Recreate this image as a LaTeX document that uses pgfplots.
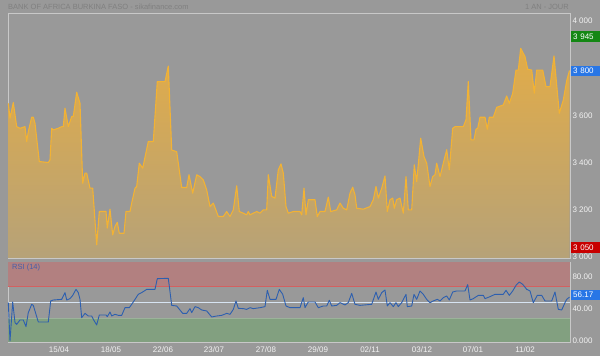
\documentclass[border=0pt]{standalone}
\usepackage{pgfplots}
\pgfplotsset{compat=1.18}
\usepackage{fontspec}
\setmainfont{Liberation Sans}
\definecolor{bg}{RGB}{153,153,153}
\definecolor{framec}{RGB}{200,200,200}
\definecolor{lbl}{RGB}{242,242,242}
\definecolor{titlec}{RGB}{128,128,128}
\definecolor{pline}{RGB}{242,178,52}
\definecolor{ptop}{RGB}{226,172,72}
\definecolor{pbot}{RGB}{182,162,120}
\definecolor{rsiline}{RGB}{45,95,175}
\definecolor{redband}{RGB}{178,128,128}
\definecolor{greenband}{RGB}{130,160,128}
\definecolor{redline}{RGB}{212,96,96}
\definecolor{midline}{RGB}{215,228,242}
\definecolor{boxgreen}{RGB}{20,135,20}
\definecolor{boxblue}{RGB}{40,118,230}
\definecolor{boxred}{RGB}{200,0,0}
\definecolor{rsitext}{RGB}{70,95,170}

\begin{document}
\begin{tikzpicture}[x=1pt,y=1pt]
\useasboundingbox (0,0) rectangle (600,356);
\fill[bg] (0,0) rectangle (600,356);
\node[anchor=west, text=titlec, font=\fontsize{7.5}{8}\selectfont, inner sep=0pt] at (8,349.5) {BANK OF AFRICA BURKINA FASO - sikafinance.com};
\node[anchor=east, text=titlec, font=\fontsize{7.5}{8}\selectfont, inner sep=0pt] at (569,349.5) {1 AN - JOUR};

% ---------- price panel ----------
\begin{axis}[
  at={(8pt,98pt)}, anchor=south west,
  width=562pt, height=245pt, scale only axis,
  xmin=8, xmax=570, ymin=2995, ymax=4034,
  axis background/.style={fill=bg},
  axis line style={framec, line width=0.8pt},
  xtick=\empty,
  ytick={3000,3200,3400,3600,4000},
  yticklabels={3 000,3 200,3 400,3 600,4 000},
  yticklabel pos=right,
  major tick length=0pt,
  yticklabel style={font=\fontsize{8}{9}\selectfont, text=lbl, anchor=west, xshift=-1pt},
  clip=false,
]
\addplot[overlay, draw=none, top color=ptop, bottom color=pbot] coordinates {
(8.3,2995)
(8.3,3651) (10,3588) (13.3,3654) (16.7,3552) (20,3545) (25,3552) (26.7,3489) (28.3,3531)
(31.7,3592) (33.3,3592) (35,3566) (39.3,3404) (48.3,3400) (50,3411) (51.7,3545) (53.3,3538)
(58.3,3545) (61.7,3552) (63.3,3552) (65,3630) (68.3,3552) (71.7,3595) (73.3,3595) (76.7,3698)
(80,3651) (82.7,3312) (85,3355) (86.7,3355) (90,3291) (92.7,3291) (96.7,3051) (99.3,3192)
(106,3192) (107.3,3122) (110,3202) (112.7,3093) (115,3129) (117.3,3146) (119.3,3100) (124,3100)
(126,3192) (130,3192) (131.7,3228) (135,3291) (136.7,3298) (139.3,3397) (142.7,3376) (148.3,3489)
(153.3,3489) (157.3,3743) (165,3743) (168.3,3809) (171.7,3453) (176.7,3446) (181.7,3294) (186.7,3294)
(189,3348) (192.7,3270) (196.7,3348) (200,3340) (203.3,3326) (206.7,3284) (210,3213) (213.3,3228)
(218.3,3171) (223.3,3171) (226.7,3192) (230,3171) (233.3,3199) (236.7,3301) (239.3,3192) (243.3,3185)
(246.7,3178) (248.3,3192) (250,3178) (253.3,3185) (256.7,3192) (260,3185) (263.3,3199) (266.7,3199)
(268.3,3348) (271.7,3256) (275,3249) (278.3,3369) (281,3394) (283.3,3355) (286,3213) (288.3,3185)
(293.3,3192) (300,3192) (301.7,3178) (304,3291) (306,3178) (308.3,3242) (315,3242) (317.3,3171)
(320,3192) (325,3192) (328.3,3253) (330.7,3192) (336.7,3199) (340,3228) (343.3,3206) (346.7,3199)
(350,3270) (352.7,3295) (355,3263) (356.7,3206) (363.3,3202) (370,3213) (373.3,3242) (376,3298)
(378.3,3249) (381.7,3291) (385,3343) (387.3,3192) (390,3242) (392.7,3249) (394.3,3206) (396.7,3242)
(400,3249) (403.3,3185) (406,3340) (408.3,3199) (411.7,3199) (414.3,3390) (416.7,3319) (420.7,3503)
(424,3425) (426.7,3397) (430,3298) (432.7,3340) (435,3348) (436.7,3397) (440,3340) (443.3,3397)
(446.7,3454) (449.3,3369) (452.7,3545) (455,3552) (463.3,3552) (466,3581) (468.3,3743) (471,3496)
(474,3496) (476,3541) (477.7,3545) (480,3592) (485,3592) (487.3,3541) (489.3,3592) (493.3,3592)
(496.7,3634) (503.3,3644) (506.7,3682) (509.3,3651) (512.7,3694) (516,3792) (518.3,3792) (520.7,3884)
(525,3849) (527.7,3795) (531.7,3792) (534.3,3694) (536.7,3792) (542.7,3792) (546,3722) (550,3722)
(554,3852) (559.3,3609) (563.3,3665) (566.7,3747) (569.5,3790)
(569.5,2995)
};
\addplot[draw=pline, line width=1.1pt, line join=round] coordinates {
(8.3,3651) (10,3588) (13.3,3654) (16.7,3552) (20,3545) (25,3552) (26.7,3489) (28.3,3531)
(31.7,3592) (33.3,3592) (35,3566) (39.3,3404) (48.3,3400) (50,3411) (51.7,3545) (53.3,3538)
(58.3,3545) (61.7,3552) (63.3,3552) (65,3630) (68.3,3552) (71.7,3595) (73.3,3595) (76.7,3698)
(80,3651) (82.7,3312) (85,3355) (86.7,3355) (90,3291) (92.7,3291) (96.7,3051) (99.3,3192)
(106,3192) (107.3,3122) (110,3202) (112.7,3093) (115,3129) (117.3,3146) (119.3,3100) (124,3100)
(126,3192) (130,3192) (131.7,3228) (135,3291) (136.7,3298) (139.3,3397) (142.7,3376) (148.3,3489)
(153.3,3489) (157.3,3743) (165,3743) (168.3,3809) (171.7,3453) (176.7,3446) (181.7,3294) (186.7,3294)
(189,3348) (192.7,3270) (196.7,3348) (200,3340) (203.3,3326) (206.7,3284) (210,3213) (213.3,3228)
(218.3,3171) (223.3,3171) (226.7,3192) (230,3171) (233.3,3199) (236.7,3301) (239.3,3192) (243.3,3185)
(246.7,3178) (248.3,3192) (250,3178) (253.3,3185) (256.7,3192) (260,3185) (263.3,3199) (266.7,3199)
(268.3,3348) (271.7,3256) (275,3249) (278.3,3369) (281,3394) (283.3,3355) (286,3213) (288.3,3185)
(293.3,3192) (300,3192) (301.7,3178) (304,3291) (306,3178) (308.3,3242) (315,3242) (317.3,3171)
(320,3192) (325,3192) (328.3,3253) (330.7,3192) (336.7,3199) (340,3228) (343.3,3206) (346.7,3199)
(350,3270) (352.7,3295) (355,3263) (356.7,3206) (363.3,3202) (370,3213) (373.3,3242) (376,3298)
(378.3,3249) (381.7,3291) (385,3343) (387.3,3192) (390,3242) (392.7,3249) (394.3,3206) (396.7,3242)
(400,3249) (403.3,3185) (406,3340) (408.3,3199) (411.7,3199) (414.3,3390) (416.7,3319) (420.7,3503)
(424,3425) (426.7,3397) (430,3298) (432.7,3340) (435,3348) (436.7,3397) (440,3340) (443.3,3397)
(446.7,3454) (449.3,3369) (452.7,3545) (455,3552) (463.3,3552) (466,3581) (468.3,3743) (471,3496)
(474,3496) (476,3541) (477.7,3545) (480,3592) (485,3592) (487.3,3541) (489.3,3592) (493.3,3592)
(496.7,3634) (503.3,3644) (506.7,3682) (509.3,3651) (512.7,3694) (516,3792) (518.3,3792) (520.7,3884)
(525,3849) (527.7,3795) (531.7,3792) (534.3,3694) (536.7,3792) (542.7,3792) (546,3722) (550,3722)
(554,3852) (559.3,3609) (563.3,3665) (566.7,3747) (569.5,3790)
};
\coordinate (hi) at (axis cs:570,3934);
\coordinate (last) at (axis cs:570,3788);
\coordinate (lo) at (axis cs:570,3040);
\end{axis}

% ---------- RSI panel ----------
\begin{axis}[
  at={(8pt,14pt)}, anchor=south west,
  width=562pt, height=80pt, scale only axis,
  xmin=8, xmax=570, ymin=0, ymax=100,
  axis background/.style={fill=bg},
  axis line style={framec, line width=0.8pt},
  xtick={59,111,163,214,266,318,370,422,473,525},
  xticklabels={15/04,18/05,22/06,23/07,27/08,29/09,02/11,03/12,07/01,11/02},
  xticklabel style={font=\fontsize{8}{9}\selectfont, text=lbl, yshift=-1.5pt},
  ytick={0,40,80},
  yticklabels={0.000,40.00,80.00},
  yticklabel pos=right,
  major tick length=0pt,
  yticklabel style={font=\fontsize{8}{9}\selectfont, text=lbl, anchor=west, xshift=-1pt, yshift=1.5pt},
  clip=false,
]
\addplot[draw=none, fill=redband] coordinates {(8,70) (570,70) (570,100) (8,100)};
\addplot[draw=none, fill=greenband] coordinates {(8,0) (570,0) (570,30) (8,30)};
\addplot[redline, line width=0.8pt] coordinates {(8,70) (570,70)};
\addplot[midline, line width=0.8pt] coordinates {(8,50) (570,50)};
\addplot[greenband!80!white, line width=0.6pt] coordinates {(8,30) (570,30)};
\addplot[rsiline, line width=0.9pt, line join=round] coordinates {
(8.3,49.2) (10,1.2) (12.7,50) (15,24.2) (16.7,22.1) (20,27.5) (23.3,27.5) (26,19.2) (28.3,36.7)
(31.7,47.1) (33.3,45.8) (38.3,25) (48.3,25) (50.7,51.3) (53.3,52.5) (61.7,53.3) (65,61.7) (66.7,52.5)
(70,54.2) (72.7,58.3) (76,65.8) (78.3,61.7) (80,53.3) (81.7,30.4) (85,35.8) (88.3,32.5) (91.7,32.5)
(93.3,28.3) (96.7,21.3) (99.3,33.8) (106,33.8) (107.3,31.7) (110,37.5) (111.7,32.5) (115,34.6)
(118.3,33.3) (121.7,33.3) (125,42.9) (129.3,42.9) (131.7,47.1) (135,53.3) (138.3,59.6) (141.7,61.7)
(146.7,65.8) (155,65.8) (157.3,79.2) (168.3,79.6) (171.7,45.8) (176.7,45) (182.7,35.8) (186.7,35.8)
(190,41.7) (191.7,36.7) (195,44.2) (198.3,42.9) (201.7,40) (206.7,38.8) (211.7,31.3) (216.7,32.5)
(221.7,33.3) (226.7,35.8) (230,34.6) (233.3,40.8) (236,51.3) (238.3,42.1) (243.3,41.7) (246.7,40.8)
(250,42.9) (253.3,41.7) (260,42.9) (265,44.2) (267.3,64.6) (270,53.3) (276,53.3) (279.3,65.8)
(282.7,59.6) (286,45) (290,42.9) (300,42.9) (303.3,55.4) (305,42.9) (308.3,50) (315,50) (318.3,42.9)
(323.3,45) (326.7,45) (329.3,52.1) (331.7,45) (336.7,45.8) (340,49.2) (345,46.3) (348.3,49.2)
(351.7,60.8) (355,47.1) (360,45.8) (371.7,47.1) (376,62.5) (378.3,53.3) (381.7,61.7) (385,65)
(387.3,45) (390,49.2) (393.3,44.2) (396,49.2) (398.3,44.2) (401.7,49.2) (406,59.6) (407.3,44.2)
(411.7,45) (414,59.6) (416.7,53.3) (420,63.8) (423.3,59.6) (426.7,53.3) (430,49.2) (433.3,51.3)
(437.3,53.3) (440,51.3) (443.3,55.4) (446.7,57.5) (449.3,52.5) (452.7,62.5) (456.7,63.8) (465,63.8)
(467.7,71.7) (470,52.5) (473.3,54.2) (478.3,58.3) (483.3,58.3) (485,54.2) (490,56.7) (495,59.6)
(503.3,59.6) (506,64.6) (509.3,58.3) (512.7,63.8) (516,70.8) (519.3,75) (522.7,72.1) (526.7,65.8)
(530,63.8) (533.3,49.2) (537.3,58.3) (541.7,58.3) (545,51.3) (551.7,51.3) (555,62.5) (558.3,40.8)
(561.7,40) (565,49.2) (566.7,53.3) (569.5,56.17)
};
\node[anchor=west, text=rsitext, font=\fontsize{7.5}{8}\selectfont, inner sep=0pt] at (axis cs:12,93) {RSI (14)};
\coordinate (rsilast) at (axis cs:570,59);
\end{axis}

\tikzset{vbox/.style={anchor=west, text=white, inner xsep=2pt, inner ysep=0pt, minimum height=10.5pt, text width=26pt, font=\fontsize{8}{9}\selectfont}}
\node[vbox, fill=boxgreen] at ([xshift=1pt]hi) {3 945};
\node[vbox, fill=boxblue] at ([xshift=1pt]last) {3 800};
\node[vbox, fill=boxred] at ([xshift=1pt]lo) {3 050};
\node[vbox, fill=boxblue] at ([xshift=1pt]rsilast) {56.17};
\end{tikzpicture}
\end{document}
